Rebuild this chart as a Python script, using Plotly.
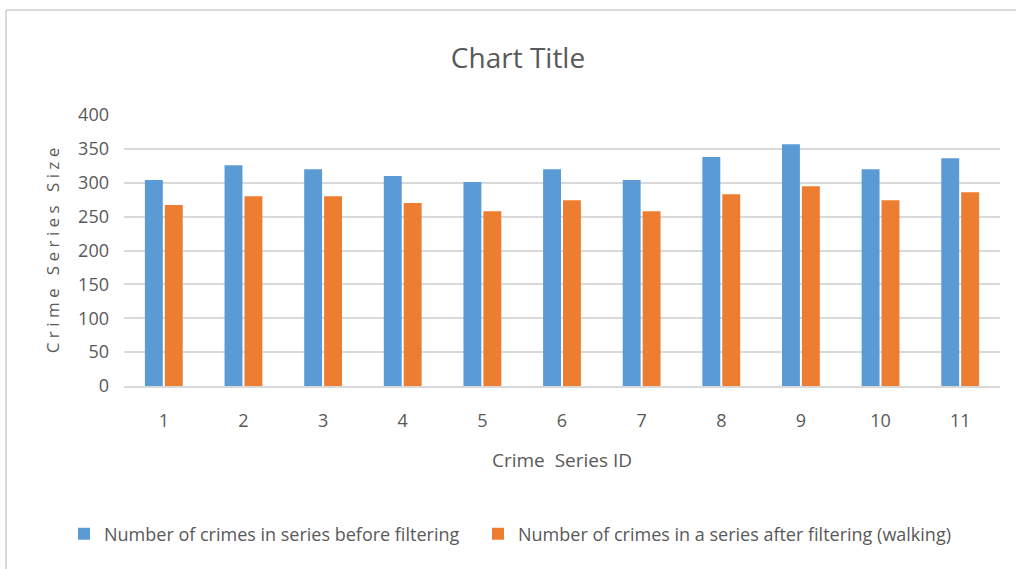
import plotly.graph_objects as go

categories = ["1", "2", "3", "4", "5", "6", "7", "8", "9", "10", "11"]
before_filtering = [304, 326, 320, 310, 301, 320, 304, 338, 357, 320, 336]
after_filtering = [267, 280, 280, 270, 258, 274, 258, 283, 295, 274, 286]
series_names = ["Number of crimes in series before filtering",
                "Number of crimes in a series after filtering (walking)"]
y_ticks = [0, 50, 100, 150, 200, 250, 300, 350, 400]

FONT = "Open Sans, sans-serif"
TXT = "#595959"

fig = go.Figure()
fig.add_trace(go.Bar(x=categories, y=before_filtering, name=series_names[0],
                     marker=dict(color="#5b9bd5", line=dict(width=0)),
                     legend="legend"))
fig.add_trace(go.Bar(x=categories, y=after_filtering, name=series_names[1],
                     marker=dict(color="#ed7d31", line=dict(width=0)),
                     legend="legend2"))

legend_common = dict(orientation="h", xref="container", xanchor="left",
                     y=1 - 534 / 569, yref="container", yanchor="middle",
                     font=dict(family=FONT, size=18, color=TXT),
                     itemwidth=30, bgcolor="rgba(0,0,0,0)")

fig.update_layout(
    width=1016, height=569,
    margin=dict(l=124, r=16, t=115, b=183),
    paper_bgcolor="white", plot_bgcolor="white",
    barmode="group", bargap=0.5, bargroupgap=0.1,
    font=dict(family=FONT, color=TXT, size=18),
    title=dict(text="Chart Title", x=518 / 1016, xref="container", xanchor="center",
               y=1 - 58 / 569, yref="container", yanchor="middle",
               font=dict(family=FONT, size=28, color=TXT)),
    legend=dict(x=64 / 1016, **legend_common),
    legend2=dict(x=478 / 1016, **legend_common),
    showlegend=True,
    shapes=[
        dict(type="line", xref="paper", yref="paper",
             x0=-118 / 876, x1=1.02, y0=1 + 105 / 271, y1=1 + 105 / 271,
             line=dict(color="#d9d9d9", width=2)),
        dict(type="line", xref="paper", yref="paper",
             x0=-118 / 876, x1=-118 / 876, y0=1 + 105 / 271, y1=-183 / 271 - 0.1,
             line=dict(color="#d9d9d9", width=2)),
    ],
)

fig.update_xaxes(showgrid=False, showline=True, linecolor="#d9d9d9", linewidth=1.5,
                 ticks="", ticklabelstandoff=18,
                 tickfont=dict(family=FONT, size=18, color=TXT),
                 title=dict(text="Crime  Series ID", standoff=22,
                            font=dict(family=FONT, size=19, color=TXT)))
fig.update_yaxes(range=[0, 400], tickvals=y_ticks, showgrid=True,
                 gridcolor="#d9d9d9", gridwidth=1.5, zeroline=False,
                 showline=False, ticks="", ticklabelstandoff=14,
                 tickfont=dict(family=FONT, size=18, color=TXT),
                 title=dict(text="C r i m e   S e r i e s   S i z e", standoff=14,
                            font=dict(family=FONT, size=17, color=TXT)))

fig.write_html("out.html")
